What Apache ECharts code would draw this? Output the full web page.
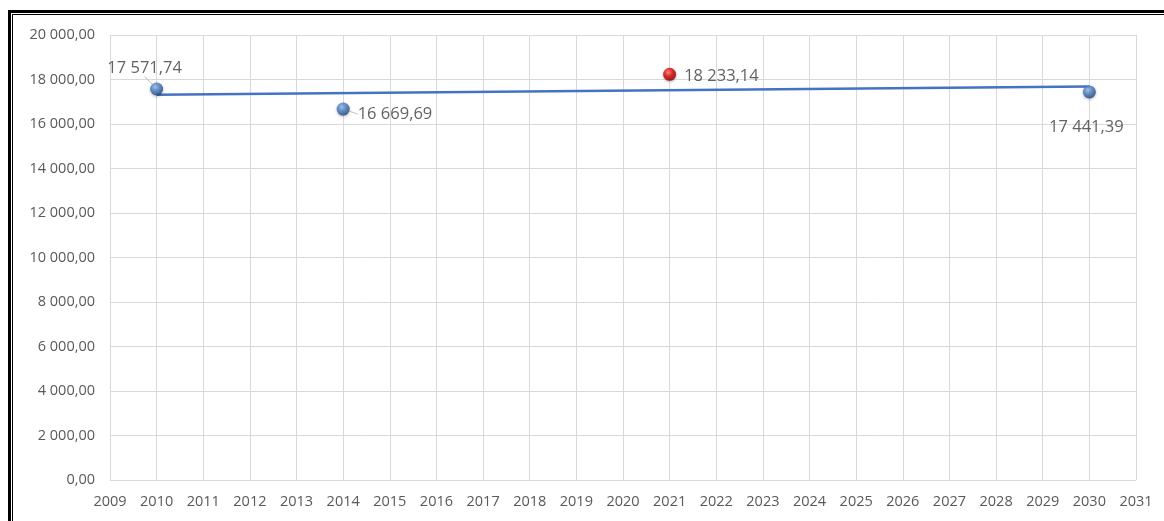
<!DOCTYPE html>
<html><head><meta charset="utf-8">
<script src="https://cdn.jsdelivr.net/npm/echarts@6/dist/echarts.min.js"></script>
<style>html,body{margin:0;padding:0;background:#fff}#c{width:1164px;height:521px}</style>
</head><body><div id="c"></div>
<script>
const years = [2010, 2014, 2021, 2030];
const values = [17571.74, 16669.69, 18233.14, 17441.39];
const highlightIndex = 2;
const trendYears = [2010, 2030];
const trendValues = [17316, 17689];

function fmt(v, d) {
  const s = v.toFixed(d);
  const [i, f] = s.split('.');
  const ii = i.replace(/\B(?=(\d{3})+(?!\d))/g, ' ');
  return f ? ii + ',' + f : ii;
}
const blueBall = {type:'radial', x:0.4, y:0.35, r:0.7, colorStops:[{offset:0,color:'#9ec0ee'},{offset:0.45,color:'#4a7fc4'},{offset:1,color:'#1f3f73'}]};
const redBall = {type:'radial', x:0.4, y:0.35, r:0.7, colorStops:[{offset:0,color:'#ff8080'},{offset:0.45,color:'#e60000'},{offset:1,color:'#7a0000'}]};
const labelPos = ['top', 'right', 'right', 'bottom'];
const labelShift = [[-12,-2],[4,5],[4,2],[-3,16]];
const leader = [true, true, false, false];
const pts = years.map((y,i)=>({
  value:[y, values[i]],
  itemStyle:{color: i===highlightIndex ? redBall : blueBall, shadowBlur:3, shadowColor:'rgba(0,0,0,0.35)', shadowOffsetY:1},
  label:{show:true, formatter: fmt(values[i],2), position: labelPos[i], distance:4},
  labelLine:{show: leader[i], lineStyle:{color:'#bfbfbf', width:1}}
}));
const chart = echarts.init(document.getElementById('c'));
chart.setOption({
  animation:false,
  textStyle:{fontFamily:'Open Sans'},
  grid:{left:110, right:28, top:35, bottom:41, containLabel:false},
  xAxis:{type:'value', min:2009, max:2031, interval:1,
    axisLine:{show:false}, axisTick:{show:false},
    splitLine:{show:true, lineStyle:{color:'#d9d9d9', width:1}},
    axisLabel:{color:'#595959', fontSize:14.5, margin:14, formatter:v=>String(v), fontFamily:'Open Sans'}},
  yAxis:{type:'value', min:0, max:20000, interval:2000,
    axisLine:{show:false}, axisTick:{show:false},
    splitLine:{show:true, lineStyle:{color:'#d9d9d9', width:1}},
    axisLabel:{color:'#595959', fontSize:14.5, margin:15, formatter:v=>fmt(v,2), fontFamily:'Open Sans'}},
  series:[
    {type:'line', data:trendYears.map((y,i)=>[y,trendValues[i]]), symbol:'none',
     lineStyle:{color:'#4472c4', width:2.5}, z:2, silent:true},
    {type:'scatter', data:pts, symbolSize:13, z:3,
     label:{color:'#3a3a3a', fontSize:16.5, fontFamily:'Open Sans'},
     labelLayout:function(p){ const s = labelShift[p.dataIndex]; return {dx:s[0], dy:s[1]}; }}
  ],
  graphic:[
    {type:'rect', shape:{x:8,y:10,width:1160,height:3}, style:{fill:'#000'}},
    {type:'rect', shape:{x:12,y:14,width:1160,height:1}, style:{fill:'#000'}},
    {type:'rect', shape:{x:8,y:10,width:3,height:520}, style:{fill:'#000'}},
    {type:'rect', shape:{x:12,y:14,width:1,height:520}, style:{fill:'#000'}}
  ]
});
</script></body></html>
